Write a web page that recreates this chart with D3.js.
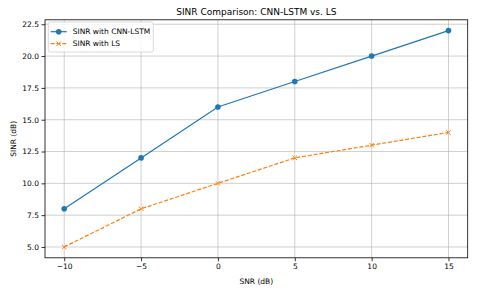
<!DOCTYPE html>
<html>
<head>
<meta charset="utf-8">
<script src="https://cdn.jsdelivr.net/npm/d3@7"></script>
<style>
  body { margin: 0; background: #fff; }
  text { font-family: "DejaVu Sans", sans-serif; fill: #000; }
</style>
</head>
<body>
<div id="wrapper"></div>
<script>
// data
const snr = [-10, -5, 0, 5, 10, 15];
const sinrCnnLstm = [8, 12, 16, 18, 20, 22];
const sinrLs = [5, 8, 10, 12, 13, 14];
const xTicks = [-10, -5, 0, 5, 10, 15];
const yTicks = [5, 7.5, 10, 12.5, 15, 17.5, 20, 22.5];

const width = 480;
const height = 288;
const margin = { top: 19.8, right: 12.3, bottom: 30.2, left: 45 };
const boundedWidth = width - margin.left - margin.right;
const boundedHeight = height - margin.top - margin.bottom;
const fontSize = "7.5px";

const svg = d3.select("#wrapper").append("svg")
  .attr("width", width)
  .attr("height", height);

const bounds = svg.append("g")
  .attr("transform", `translate(${margin.left},${margin.top})`);

// scales
const xScale = d3.scaleLinear().domain([-11.25, 16.25]).range([0, boundedWidth]);
const yScale = d3.scaleLinear().domain([4.15, 22.85]).range([boundedHeight, 0]);

// grid
bounds.append("g").selectAll("line").data(xTicks).join("line")
  .attr("x1", d => xScale(d)).attr("x2", d => xScale(d))
  .attr("y1", 0).attr("y2", boundedHeight)
  .attr("stroke", "#b0b0b0").attr("stroke-opacity", 0.6).attr("stroke-width", 1);
bounds.append("g").selectAll("line").data(yTicks).join("line")
  .attr("y1", d => yScale(d)).attr("y2", d => yScale(d))
  .attr("x1", 0).attr("x2", boundedWidth)
  .attr("stroke", "#b0b0b0").attr("stroke-opacity", 0.6).attr("stroke-width", 1);

// axes
const xAxis = bounds.append("g")
  .attr("transform", `translate(0,${boundedHeight})`)
  .call(d3.axisBottom(xScale).tickValues(xTicks).tickSize(3.5).tickPadding(2.5)
    .tickFormat(d => d < 0 ? "\u2212" + Math.abs(d) : d));
const yAxis = bounds.append("g")
  .call(d3.axisLeft(yScale).tickValues(yTicks).tickSize(3.5).tickPadding(2.5)
    .tickFormat(d3.format(".1f")));
[xAxis, yAxis].forEach(a => {
  a.select(".domain").remove();
  a.selectAll("line").attr("stroke", "#000").attr("stroke-width", 0.8);
  a.selectAll("text").style("font-family", "DejaVu Sans, sans-serif")
    .style("font-size", fontSize).attr("fill", "#000");
});

// frame
bounds.append("rect")
  .attr("width", boundedWidth).attr("height", boundedHeight)
  .attr("fill", "none").attr("stroke", "#000").attr("stroke-width", 0.8);

// lines
const line = d3.line().x(d => xScale(d[0])).y(d => yScale(d[1]));
const cnnData = snr.map((d, i) => [d, sinrCnnLstm[i]]);
const lsData = snr.map((d, i) => [d, sinrLs[i]]);

bounds.append("path").datum(cnnData)
  .attr("d", line).attr("fill", "none")
  .attr("stroke", "#1f77b4").attr("stroke-width", 1.2);
bounds.append("g").selectAll("circle").data(cnnData).join("circle")
  .attr("cx", d => xScale(d[0])).attr("cy", d => yScale(d[1]))
  .attr("r", 2.8).attr("fill", "#1f77b4");

bounds.append("path").datum(lsData)
  .attr("d", line).attr("fill", "none")
  .attr("stroke", "#ff7f0e").attr("stroke-width", 1.2)
  .attr("stroke-dasharray", "4,1.8");
const xMark = (g, x, y, s) => {
  g.append("path")
    .attr("d", `M${x - s},${y - s}L${x + s},${y + s}M${x - s},${y + s}L${x + s},${y - s}`)
    .attr("stroke", "#ff7f0e").attr("stroke-width", 1).attr("fill", "none");
};
const lsMarks = bounds.append("g");
lsData.forEach(d => xMark(lsMarks, xScale(d[0]), yScale(d[1]), 2.2));

// legend
const legend = bounds.append("g").attr("transform", "translate(3.3,2.2)");
legend.append("rect")
  .attr("width", 105).attr("height", 30).attr("rx", 2)
  .attr("fill", "#fff").attr("fill-opacity", 0.8)
  .attr("stroke", "#d0d0d0").attr("stroke-width", 0.8);
legend.append("line").attr("x1", 2.4).attr("x2", 18.4).attr("y1", 9.7).attr("y2", 9.7)
  .attr("stroke", "#1f77b4").attr("stroke-width", 1.2);
legend.append("circle").attr("cx", 10.4).attr("cy", 9.7).attr("r", 2.8).attr("fill", "#1f77b4");
legend.append("text").attr("x", 24.4).attr("y", 9.7).attr("dy", "0.35em")
  .style("font-size", fontSize).text("SINR with CNN-LSTM");
legend.append("line").attr("x1", 2.4).attr("x2", 18.4).attr("y1", 21.7).attr("y2", 21.7)
  .attr("stroke", "#ff7f0e").attr("stroke-width", 1.2).attr("stroke-dasharray", "4,1.8");
xMark(legend, 10.4, 21.7, 2.2);
legend.append("text").attr("x", 24.4).attr("y", 21.7).attr("dy", "0.35em")
  .style("font-size", fontSize).text("SINR with LS");

// labels
svg.append("text")
  .attr("x", margin.left + boundedWidth / 2).attr("y", 15)
  .attr("text-anchor", "middle").style("font-size", "9px")
  .text("SINR Comparison: CNN-LSTM vs. LS");
svg.append("text")
  .attr("x", margin.left + boundedWidth / 2).attr("y", 283.5)
  .attr("text-anchor", "middle").style("font-size", fontSize)
  .text("SNR (dB)");
svg.append("text")
  .attr("transform", `translate(15.8,${margin.top + boundedHeight / 2}) rotate(-90)`)
  .attr("text-anchor", "middle").style("font-size", fontSize)
  .text("SINR (dB)");
</script>
</body>
</html>
